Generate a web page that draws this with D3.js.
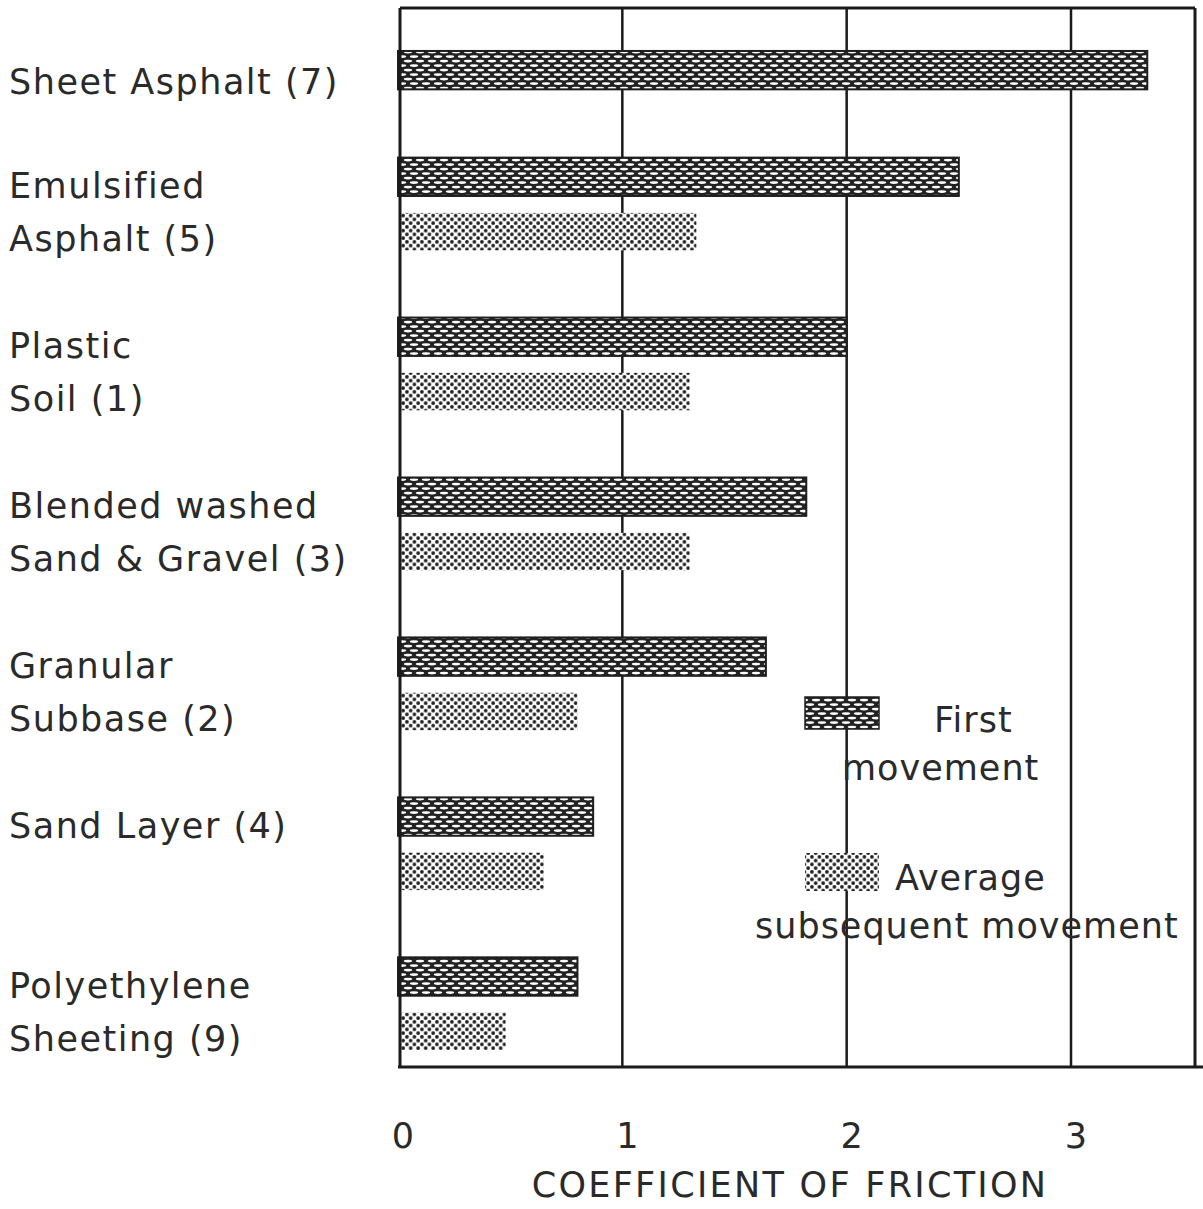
<!DOCTYPE html>
<html>
<head>
<meta charset="utf-8">
<script src="https://cdn.jsdelivr.net/npm/d3@7"></script>
<style>
  html, body { margin: 0; padding: 0; background: #fff; }
  svg { display: block; }
  text { font-family: "DejaVu Sans", sans-serif; fill: #2a2a2a; }
</style>
</head>
<body>
<svg id="chart" width="1203" height="1209"></svg>
<script>
// ---- data ----
const categories = [
  "Sheet Asphalt (7)",
  "Emulsified Asphalt (5)",
  "Plastic Soil (1)",
  "Blended washed Sand & Gravel (3)",
  "Granular Subbase (2)",
  "Sand Layer (4)",
  "Polyethylene Sheeting (9)"
];
const labelLines = [
  ["Sheet Asphalt (7)"],
  ["Emulsified", "Asphalt (5)"],
  ["Plastic", "Soil (1)"],
  ["Blended washed", "Sand & Gravel (3)"],
  ["Granular", "Subbase (2)"],
  ["Sand Layer (4)"],
  ["Polyethylene", "Sheeting (9)"]
];
const firstMovement      = [3.34, 2.50, 2.00, 1.82, 1.64, 0.87, 0.80];
const subsequentMovement = [null, 1.33, 1.30, 1.30, 0.80, 0.65, 0.48];
const xTicks = [0, 1, 2, 3];
const seriesNames = ["First movement", "Average subsequent movement"];
const xTitle = "COEFFICIENT OF FRICTION";

// ---- layout ----
const frame = { left: 400, right: 1195, top: 8, bottom: 1067 };
const svg = d3.select("#chart");

const x = d3.scaleLinear().domain([0, 3]).range([398, 1071]);

// bar slots: Sheet Asphalt occupies a single slot, others a pair followed by a gap
const slotFirst = i => (i === 0 ? 0 : 3 * i - 1);
const slotSub = i => 3 * i;
const y = d3.scaleBand()
  .domain(d3.range(19))
  .range([43.5, 1056.5])
  .paddingInner(0.28)
  .paddingOuter(0.14);

// ---- patterns ----
const defs = svg.append("defs");
const pFirst = defs.append("pattern")
  .attr("id", "patFirst").attr("patternUnits", "userSpaceOnUse")
  .attr("width", 12).attr("height", 9);
pFirst.append("rect").attr("width", 12).attr("height", 9).attr("fill", "#222");
[[6, 2.6], [0, 7.1], [12, 7.1]].forEach(([cx, cy]) => {
  pFirst.append("ellipse").attr("cx", cx).attr("cy", cy)
    .attr("rx", 4.2).attr("ry", 1.35).attr("fill", "#fff");
});
const pSub = defs.append("pattern")
  .attr("id", "patSub").attr("patternUnits", "userSpaceOnUse")
  .attr("width", 7.5).attr("height", 7.5);
pSub.append("rect").attr("width", 7.5).attr("height", 7.5).attr("fill", "#fff");
[[1.9, 1.9], [5.65, 5.65]].forEach(([cx, cy]) => {
  pSub.append("circle").attr("cx", cx).attr("cy", cy).attr("r", 1.85).attr("fill", "#1f1f1f");
});

// ---- grid lines ----
svg.append("g").selectAll("line")
  .data(xTicks.filter(t => t > 0))
  .join("line")
  .attr("x1", d => x(d)).attr("x2", d => x(d))
  .attr("y1", frame.top).attr("y2", frame.bottom)
  .attr("stroke", "#1a1a1a").attr("stroke-width", 2.5);

// ---- bars ----
const firstData = firstMovement.map((v, i) => ({ v, slot: slotFirst(i) }));
const subData = subsequentMovement.map((v, i) => ({ v, slot: slotSub(i) })).filter(d => d.v != null);

svg.append("g").selectAll("rect")
  .data(firstData)
  .join("rect")
  .attr("x", x(0)).attr("y", d => y(d.slot))
  .attr("width", d => x(d.v) - x(0)).attr("height", y.bandwidth())
  .attr("fill", "url(#patFirst)")
  .attr("stroke", "#1f1f1f").attr("stroke-width", 2);

svg.append("g").selectAll("rect")
  .data(subData)
  .join("rect")
  .attr("x", x(0) + 2).attr("y", d => y(d.slot) + 2)
  .attr("width", d => x(d.v) - x(0) - 2).attr("height", y.bandwidth() - 1)
  .attr("fill", "url(#patSub)");

// ---- frame ----
const fr = svg.append("g").attr("stroke", "#1a1a1a").attr("stroke-width", 3).attr("fill", "none");
fr.append("line").attr("x1", frame.left).attr("x2", frame.right).attr("y1", frame.top).attr("y2", frame.top);
fr.append("line").attr("x1", frame.left).attr("x2", frame.left).attr("y1", frame.top).attr("y2", frame.bottom);
fr.append("line").attr("x1", frame.right).attr("x2", frame.right).attr("y1", frame.top).attr("y2", frame.bottom);
fr.append("line").attr("x1", frame.left - 2).attr("x2", 1203).attr("y1", frame.bottom).attr("y2", frame.bottom);

// ---- category labels ----
const lab = svg.append("g").attr("font-size", 35).attr("letter-spacing", 1.5);
labelLines.forEach((lines, i) => {
  const slots = [slotFirst(i), slotSub(i)];
  lines.forEach((t, j) => {
    lab.append("text")
      .attr("x", 9)
      .attr("y", y(slots[j]) + y.bandwidth() / 2 + (i === 0 ? 24 : 21))
      .text(t);
  });
});

// ---- x tick labels ----
svg.append("g").selectAll("text")
  .data(xTicks)
  .join("text")
  .attr("x", d => x(d) + 5)
  .attr("y", 1148)
  .attr("text-anchor", "middle")
  .attr("font-size", 35)
  .text(d => d);

svg.append("text")
  .attr("x", 790).attr("y", 1197)
  .attr("text-anchor", "middle")
  .attr("font-size", 35)
  .attr("letter-spacing", 2.3)
  .text(xTitle);

// ---- legend ----
const lg = svg.append("g");
lg.append("rect").attr("x", 805).attr("y", 697).attr("width", 74).attr("height", 32)
  .attr("fill", "url(#patFirst)").attr("stroke", "#1f1f1f").attr("stroke-width", 1.5);
lg.append("rect").attr("x", 805).attr("y", 853).attr("width", 74).attr("height", 38)
  .attr("fill", "url(#patSub)");
const lgText = lg.append("g").attr("font-size", 35).attr("letter-spacing", 1);
lgText.append("text").attr("x", 934).attr("y", 732).text(seriesNames[0].split(" ")[0]);
lgText.append("text").attr("x", 842).attr("y", 780).text(seriesNames[0].split(" ")[1]);
lgText.append("text").attr("x", 895).attr("y", 890).text(seriesNames[1].split(" ")[0]);
lgText.append("text").attr("x", 755).attr("y", 938).text(seriesNames[1].split(" ").slice(1).join(" "));
</script>
</body>
</html>
